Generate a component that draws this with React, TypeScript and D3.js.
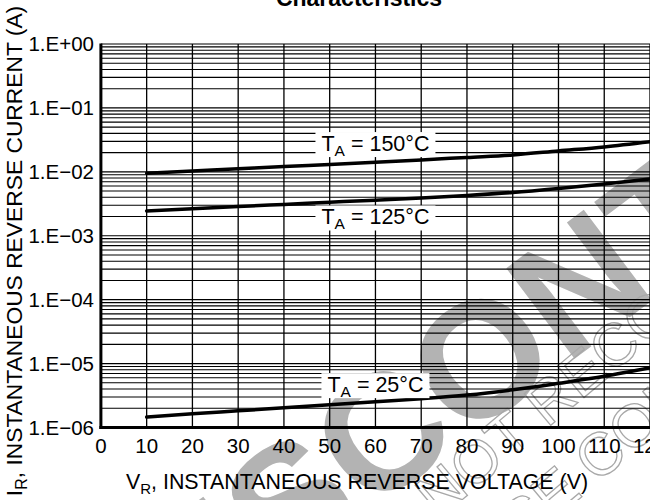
import React, { useEffect, useRef } from "react";
import * as d3 from "d3";

const voltages = [10, 20, 30, 40, 50, 60, 70, 80, 90, 100, 110, 120];
const current150 = [0.00951, 0.01033, 0.01117, 0.0121, 0.01305, 0.01412, 0.01535, 0.0168, 0.01837, 0.02123, 0.02451, 0.0295];
const current125 = [0.002448, 0.002649, 0.002865, 0.00309, 0.003342, 0.003605, 0.003906, 0.004275, 0.004764, 0.0055, 0.006468, 0.007745];
const current25 = [1.455e-6, 1.638e-6, 1.824e-6, 2.032e-6, 2.264e-6, 2.522e-6, 2.81e-6, 3.213e-6, 3.89e-6, 4.914e-6, 6.32e-6, 8.59e-6];
const seriesTemps = ["150", "125", "25"];
const labelVoltage = [60, 60, 60];
const labelCurrent = [0.0272, 0.00193, 4.6e-6];
const xTicks = [0, 10, 20, 30, 40, 50, 60, 70, 80, 90, 100, 110, 120];
const yTicks = [1, 1e-1, 1e-2, 1e-3, 1e-4, 1e-5, 1e-6];
const yTickLabels = ["1.E+00", "1.E\u221201", "1.E\u221202", "1.E\u221203", "1.E\u221204", "1.E\u221205", "1.E\u221206"];

const W = 650;
const H = 500;
const FONT = "'Liberation Sans', Arial, Helvetica, sans-serif";

export default function App() {
  const ref = useRef<SVGSVGElement | null>(null);

  useEffect(() => {
    const svg = d3.select(ref.current);
    svg.selectAll("*").remove();

    const x = d3.scaleLinear().domain([0, 120]).range([100.9, 650]);
    const y = d3.scaleLog().domain([1e-6, 1]).range([427.5, 44]);

    // watermark
    const wm = svg.append("g");
    wm.append("text")
      .attr("transform", "translate(650,302) rotate(-37)")
      .attr("text-anchor", "middle")
      .attr("font-family", FONT)
      .attr("font-weight", "bold")
      .attr("font-size", 165)
      .attr("fill", "#b3b3b3")
      .text("DISCONTINUED");
    wm.append("text")
      .attr("transform", "translate(438,520) rotate(-40)")
      .attr("font-family", FONT)
      .attr("font-size", 60)
      .attr("fill", "none")
      .attr("stroke", "#a8a8a8")
      .attr("stroke-width", 1.3)
      .text("NOT RECOMMENDED FOR NEW DESIGN");
    wm.append("text")
      .attr("transform", "translate(405,645) rotate(-40)")
      .attr("font-family", FONT)
      .attr("font-size", 60)
      .attr("fill", "none")
      .attr("stroke", "#a8a8a8")
      .attr("stroke-width", 1.3)
      .text("PLEASE CONTACT ON SEMICONDUCTOR");

    const [x0, x1] = x.range();
    const [yb, yt] = y.range();

    // horizontal grid (log minor)
    const hLines: number[] = [];
    for (let d = -6; d < 0; d++) {
      for (let k = 1; k <= 9; k++) hLines.push(k * Math.pow(10, d));
    }
    hLines.push(1);
    svg.append("g")
      .selectAll("line")
      .data(hLines)
      .join("line")
      .attr("x1", x0)
      .attr("x2", x1)
      .attr("y1", (d) => y(d))
      .attr("y2", (d) => y(d))
      .attr("stroke", "#000")
      .attr("stroke-width", 1.1);

    // vertical grid
    svg.append("g")
      .selectAll("line")
      .data(xTicks.filter((v) => v > 0))
      .join("line")
      .attr("x1", (d) => x(d))
      .attr("x2", (d) => x(d))
      .attr("y1", yt)
      .attr("y2", yb)
      .attr("stroke", "#000")
      .attr("stroke-width", 1.3);

    // axes lines
    svg.append("line").attr("x1", x0).attr("x2", x0).attr("y1", yt - 0.5).attr("y2", yb + 1.5)
      .attr("stroke", "#000").attr("stroke-width", 3);
    svg.append("line").attr("x1", x0 - 1.5).attr("x2", x1).attr("y1", yb).attr("y2", yb)
      .attr("stroke", "#000").attr("stroke-width", 3);

    // curves
    const series = [current150, current125, current25];
    const line = d3.line<number>()
      .x((_, i) => x(voltages[i]))
      .y((d) => y(d))
      .curve(d3.curveMonotoneX);
    svg.append("g")
      .selectAll("path")
      .data(series)
      .join("path")
      .attr("d", (d) => line(d) as string)
      .attr("fill", "none")
      .attr("stroke", "#000")
      .attr("stroke-width", 3.5)
      .attr("stroke-linecap", "round");

    // labels
    seriesTemps.forEach((t, i) => {
      const g = svg.append("g");
      const cx = x(labelVoltage[i]);
      const cy = y(labelCurrent[i]);
      const rect = g.append("rect").attr("fill", "#fff");
      const txt = g.append("text")
        .attr("x", cx)
        .attr("y", cy + 7)
        .attr("text-anchor", "middle")
        .attr("font-family", FONT)
        .attr("font-size", 21.5)
        .attr("fill", "#000");
      txt.append("tspan").text("T");
      txt.append("tspan").attr("font-size", 15.5).attr("dy", 5).text("A");
      txt.append("tspan").attr("dy", -5).text(` = ${t}\u00B0C`);
      const bb = (txt.node() as SVGTextElement).getBBox();
      rect.attr("x", bb.x - 6).attr("y", cy - 12).attr("width", bb.width + 12).attr("height", 25);
    });

    // x tick labels
    svg.append("g")
      .selectAll("text")
      .data(xTicks)
      .join("text")
      .attr("x", (d) => x(d))
      .attr("y", 453)
      .attr("text-anchor", "middle")
      .attr("font-family", FONT)
      .attr("font-size", 20.5)
      .attr("fill", "#000")
      .text((d) => String(d));

    // y tick labels
    svg.append("g")
      .selectAll("text")
      .data(yTicks)
      .join("text")
      .attr("x", 94)
      .attr("y", (d) => y(d) + 7)
      .attr("text-anchor", "end")
      .attr("font-family", FONT)
      .attr("font-size", 20.5)
      .attr("fill", "#000")
      .text((_, i) => yTickLabels[i]);

    // x axis title
    const xt = svg.append("text")
      .attr("x", 357)
      .attr("y", 489)
      .attr("text-anchor", "middle")
      .attr("font-family", FONT)
      .attr("font-size", 21.4)
      .attr("fill", "#000");
    xt.append("tspan").text("V");
    xt.append("tspan").attr("font-size", 15).attr("dy", 5).text("R");
    xt.append("tspan").attr("dy", -5).text(", INSTANTANEOUS REVERSE VOLTAGE (V)");

    // y axis title
    const yt2 = svg.append("text")
      .attr("transform", "translate(22,251) rotate(-90)")
      .attr("text-anchor", "middle")
      .attr("font-family", FONT)
      .attr("font-size", 22.8)
      .attr("fill", "#000");
    yt2.append("tspan").text("I");
    yt2.append("tspan").attr("font-size", 16).attr("dy", 5).text("R");
    yt2.append("tspan").attr("dy", -5).text(", INSTANTANEOUS REVERSE CURRENT (A)");

    // title (cut off at top)
    svg.append("text")
      .attr("x", 359)
      .attr("y", 6)
      .attr("text-anchor", "middle")
      .attr("font-family", FONT)
      .attr("font-weight", "bold")
      .attr("font-size", 23)
      .attr("fill", "#000")
      .text("Characteristics");
  }, []);

  return (
    <svg
      ref={ref}
      width={W}
      height={H}
      style={{ position: "absolute", left: 0, top: 0, background: "#fff" }}
    />
  );
}
